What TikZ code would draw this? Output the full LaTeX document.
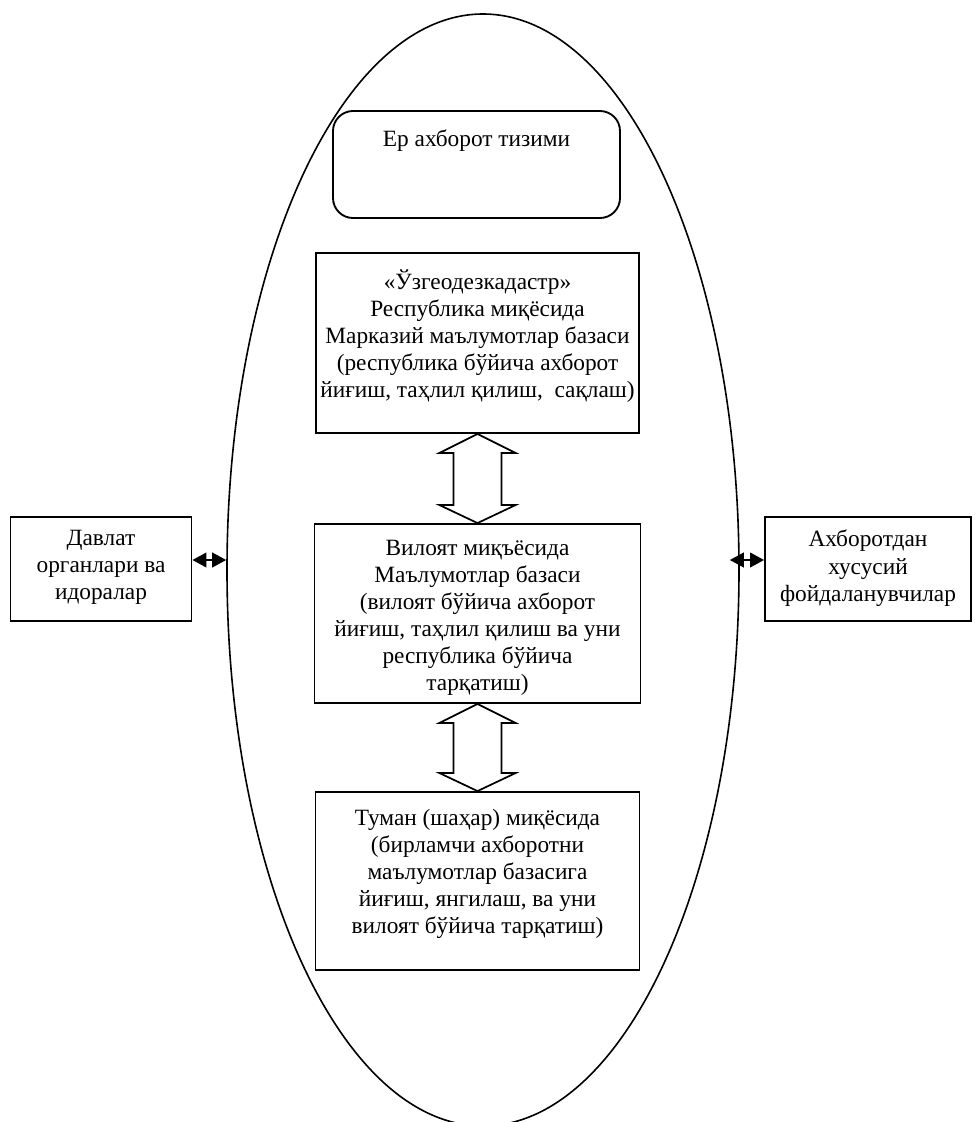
\documentclass[tikz,border=0pt]{standalone}
\usepackage{fontspec}
\setmainfont{Liberation Serif}
\usetikzlibrary{shapes.geometric,arrows.meta,calc}
\tikzset{
  box/.style={draw, line width=1.4pt, fill=white, rectangle, inner sep=0pt},
  txt/.style={align=center, font=\fontsize{17.5}{20.3}\selectfont, inner sep=0pt, anchor=north},
  sidearr/.style={{Triangle[length=10.5pt,width=11pt]}-{Triangle[length=10.5pt,width=11pt]}, line width=1.5pt},
  blockarr/.style={line width=1.3pt, fill=white, line join=miter}
}
\newcommand\blockdarrow[2]{%
  \draw[blockarr] (#1) -- ++(38,19) -- ++(-14,0) -- ($(#2)+(24,-18)$) -- ++(14,0) -- (#2)
    -- ++(-38,-18) -- ++(14,0) -- ($(#1)+(-24,19)$) -- ++(-14,0) -- cycle;}
\begin{document}
\begin{tikzpicture}[x=0.75pt,y=-0.75pt]
\useasboundingbox (0,0) rectangle (977,1122);
\fill[white] (0,0) rectangle (977,1122);
% big ellipse
\node[ellipse, draw, line width=1.2pt, inner sep=0pt,
      minimum width=512*0.75pt, minimum height=1112*0.75pt] (ell) at (483,570) {};
% title box
\node[box, rounded corners=15pt, minimum width=287*0.75pt, minimum height=107*0.75pt] (top) at (476.5,164.5) {};
\node[txt] (topt) at (476.5,130) {Ер ахборот тизими};
% three level boxes
\node[box, minimum width=323*0.75pt, minimum height=180*0.75pt] (b1) at (477.5,343) {};
\node[txt] (b1t) at (477.5,269) {«Ўзгеодезкадастр»\\Республика миқёсида\\Марказий маълумотлар базаси\\(республика бўйича ахборот\\йиғиш, таҳлил қилиш,\ \ сақлаш)};
\node[box, minimum width=326*0.75pt, minimum height=179*0.75pt] (b2) at (477.5,613.5) {};
\node[txt] (b2t) at (477.5,540) {Вилоят миқъёсида\\Маълумотлар базаси\\(вилоят бўйича ахборот\\йиғиш, таҳлил қилиш ва уни\\республика бўйича\\тарқатиш)};
\node[box, minimum width=324*0.75pt, minimum height=178*0.75pt] (b3) at (477.5,881) {};
\node[txt] (b3t) at (477.5,809) {Туман (шаҳар) миқёсида\\(бирламчи ахборотни\\маълумотлар базасига\\йиғиш, янгилаш, ва уни\\вилоят бўйича тарқатиш)};
% side boxes
\node[box, minimum width=181*0.75pt, minimum height=104*0.75pt] (lb) at (101,569) {};
\node[txt] (lbt) at (101,530) {Давлат\\органлари ва\\идоралар};
\node[box, minimum width=206*0.75pt, minimum height=104*0.75pt] (rb) at (868,569) {};
\node[txt] (rbt) at (868,530) {Ахборотдан\\хусусий\\фойдаланувчилар};
% block double arrows
\blockdarrow{b1.south}{b2.north}
\blockdarrow{b2.south}{b3.north}
% side arrows
\coordinate (la) at ($(lb.east)+(0,-9)$);
\draw[sidearr] (la) -- (la -| ell.west);
\coordinate (ra) at ($(rb.west)+(0,-9)$);
\draw[sidearr] ($(ra -| ell.east)+(-10,0)$) -- (ra);
\end{tikzpicture}
\end{document}
